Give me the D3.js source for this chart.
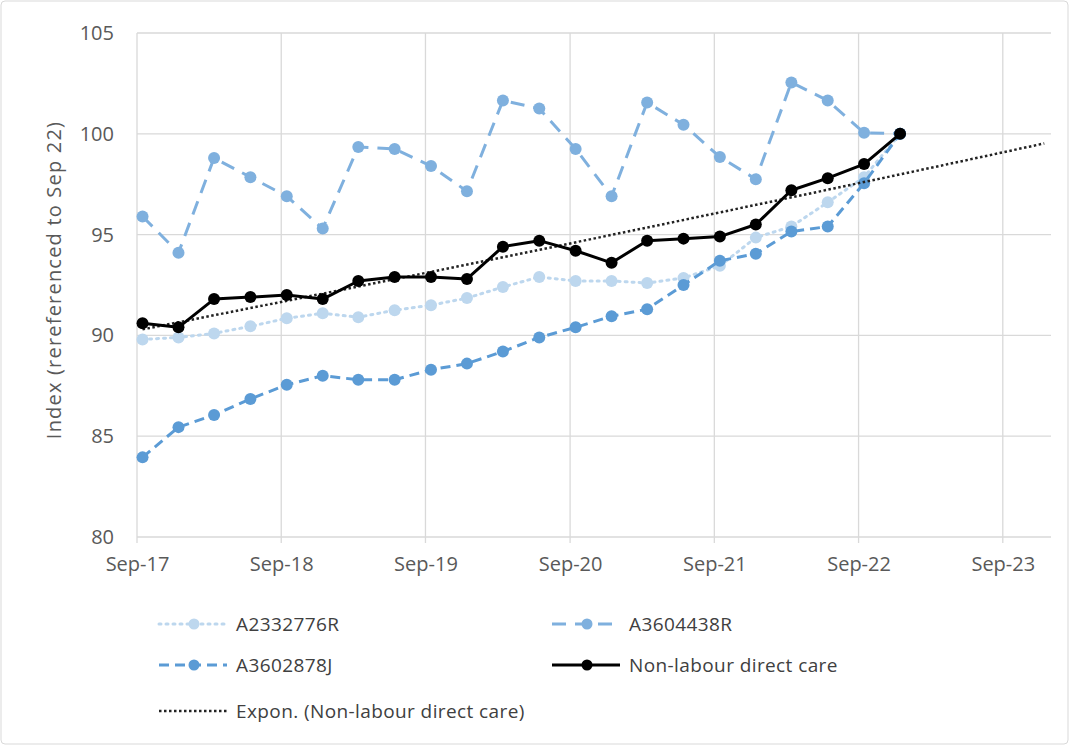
<!DOCTYPE html>
<html>
<head>
<meta charset="utf-8">
<script src="https://cdn.jsdelivr.net/npm/d3@7"></script>
<style>
  body { margin: 0; background: #fff; }
  svg { display: block; font-family: "Open Sans", sans-serif; }
</style>
</head>
<body>
<svg id="chart" width="1070" height="746"></svg>
<script>
// quarterly observation dates
var quarters = ["2017-09-15", "2017-12-15", "2018-03-15", "2018-06-15", "2018-09-15", "2018-12-15",
    "2019-03-15", "2019-06-15", "2019-09-15", "2019-12-15", "2020-03-15", "2020-06-15",
    "2020-09-15", "2020-12-15", "2021-03-15", "2021-06-15", "2021-09-15", "2021-12-15",
    "2022-03-15", "2022-06-15", "2022-09-15", "2022-12-15"];

var a2332776R = [89.8, 89.9, 90.1, 90.45, 90.85, 91.1, 90.9, 91.25, 91.5, 91.85, 92.4, 92.9,
    92.7, 92.7, 92.6, 92.85, 93.45, 94.85, 95.4, 96.6, 97.85, 100];
var a3604438R = [95.9, 94.1, 98.8, 97.85, 96.9, 95.3, 99.35, 99.25, 98.4, 97.15, 101.65, 101.25,
    99.25, 96.9, 101.55, 100.45, 98.85, 97.75, 102.55, 101.65, 100.05, 100];
var a3602878J = [83.95, 85.45, 86.05, 86.85, 87.55, 88.0, 87.8, 87.8, 88.3, 88.6, 89.2, 89.9,
    90.4, 90.95, 91.3, 92.5, 93.7, 94.05, 95.15, 95.4, 97.55, 100];
var nonLabour = [90.6, 90.4, 91.8, 91.9, 92.0, 91.8, 92.7, 92.9, 92.9, 92.8, 94.4, 94.7,
    94.2, 93.6, 94.7, 94.8, 94.9, 95.5, 97.2, 97.8, 98.5, 100];

var yTicks = [80, 85, 90, 95, 100, 105];
var xTickLabels = ["Sep-17", "Sep-18", "Sep-19", "Sep-20", "Sep-21", "Sep-22", "Sep-23"];

var parseDay = d3.timeParse("%Y-%m-%d");
var parseTick = d3.timeParse("%b-%y");
var dates = quarters.map(parseDay);

var svg = d3.select("#chart");

// outer frame
svg.append("rect")
    .attr("x", 1).attr("y", 1)
    .attr("width", 1067).attr("height", 743)
    .attr("rx", 4)
    .attr("fill", "#fff")
    .attr("stroke", "#d9d9d9");

var x = d3.scaleTime()
    .domain([new Date(2017, 8, 1), new Date(2024, 0, 1)])
    .range([137, 1051]);
var y = d3.scaleLinear()
    .domain([80, 105])
    .range([537, 33]);

var tickDates = xTickLabels.map(parseTick);

// gridlines
svg.append("g")
    .selectAll("line")
    .data(yTicks)
    .enter()
    .append("line")
    .attr("x1", x.range()[0]).attr("x2", x.range()[1])
    .attr("y1", d => y(d)).attr("y2", d => y(d))
    .attr("stroke", "#d9d9d9").attr("stroke-width", 1.3);

svg.append("g")
    .selectAll("line")
    .data(tickDates)
    .enter()
    .append("line")
    .attr("x1", d => x(d)).attr("x2", d => x(d))
    .attr("y1", y(105)).attr("y2", y(80) + 6)
    .attr("stroke", "#d9d9d9").attr("stroke-width", 1.3);

// axes text
var yAxis = svg.append("g")
    .attr("transform", "translate(" + 124 + ",0)")
    .call(d3.axisLeft(y).tickValues(yTicks).tickSize(0).tickPadding(10));
yAxis.select(".domain").remove();
yAxis.selectAll("text").attr("font-size", 20).attr("fill", "#595959")
    .attr("font-family", "Open Sans, sans-serif");

var xAxis = svg.append("g")
    .attr("transform", "translate(0," + y(80) + ")")
    .call(d3.axisBottom(x).tickValues(tickDates).tickFormat(d3.timeFormat("%b-%y")).tickSize(0).tickPadding(20));
xAxis.select(".domain").remove();
xAxis.selectAll("text").attr("font-size", 20).attr("fill", "#595959")
    .attr("font-family", "Open Sans, sans-serif");

svg.append("text")
    .attr("transform", "translate(61,280) rotate(-90)")
    .attr("text-anchor", "middle")
    .attr("font-size", 20)
    .attr("letter-spacing", 1.2)
    .attr("fill", "#595959")
    .text("Index (rereferenced to Sep 22)");

// exponential trend fitted to the non-labour series (least squares on ln y)
var day0 = dates[0].getTime();
var xs = dates.map(d => (d.getTime() - day0) / 864e5);
var ls = nonLabour.map(v => Math.log(v));
var mx = d3.mean(xs), ml = d3.mean(ls);
var b = d3.sum(xs, (v, i) => (v - mx) * (ls[i] - ml)) / d3.sum(xs, v => (v - mx) * (v - mx));
var lnA = ml - b * mx;
var trendEnd = d3.timeDay.offset(dates[dates.length - 1], 365);
var trendPts = d3.range(0, 61).map(function(i) {
    var t = new Date(day0 + (trendEnd.getTime() - day0) * i / 60);
    var dx = (t.getTime() - day0) / 864e5;
    return [t, Math.exp(lnA + b * dx)];
});

var series = [
    {name: "A2332776R", values: a2332776R, color: "#bdd7ee", dash: "2,5", width: 3, cap: "round"},
    {name: "A3604438R", values: a3604438R, color: "#7fb0de", dash: "14,9", width: 3, cap: "butt"},
    {name: "A3602878J", values: a3602878J, color: "#5b9bd5", dash: "10,6", width: 3, cap: "butt"},
    {name: "Non-labour direct care", values: nonLabour, color: "#000000", dash: null, width: 3, cap: "butt"}
];

var line = d3.line()
    .x(d => x(d[0]))
    .y(d => y(d[1]));

function drawSeries(s) {
    var pts = dates.map((d, i) => [d, s.values[i]]);
    svg.append("path")
        .datum(pts)
        .attr("d", line)
        .attr("fill", "none")
        .attr("stroke", s.color)
        .attr("stroke-width", s.width)
        .attr("stroke-linecap", s.cap)
        .attr("stroke-linejoin", "round")
        .attr("stroke-dasharray", s.dash);
    svg.append("g")
        .selectAll("circle")
        .data(pts)
        .enter()
        .append("circle")
        .attr("cx", d => x(d[0]))
        .attr("cy", d => y(d[1]))
        .attr("r", 6)
        .attr("fill", s.color);
}

drawSeries(series[0]);
drawSeries(series[1]);
drawSeries(series[2]);

svg.append("path")
    .datum(trendPts)
    .attr("d", line)
    .attr("fill", "none")
    .attr("stroke", "#222")
    .attr("stroke-width", 2.5)
    .attr("stroke-dasharray", "2.5,2.5");

drawSeries(series[3]);

// legend
var legendItems = [
    {s: series[0], x: 159, y: 624},
    {s: series[1], x: 552, y: 624},
    {s: series[2], x: 159, y: 665},
    {s: series[3], x: 552, y: 665},
    {s: {name: "Expon. (Non-labour direct care)", color: "#222", dash: "2.5,2.5", width: 2.5, trend: true}, x: 159, y: 711}
];

legendItems.forEach(function(item) {
    var g = svg.append("g").attr("transform", "translate(" + item.x + "," + item.y + ")");
    g.append("line")
        .attr("x1", 0).attr("x2", 68)
        .attr("stroke", item.s.color)
        .attr("stroke-width", item.s.width)
        .attr("stroke-linecap", item.s.cap || "butt")
        .attr("stroke-dasharray", item.s.dash);
    if (!item.s.trend) {
        g.append("circle").attr("cx", 35).attr("r", 5.5).attr("fill", item.s.color);
    }
    g.append("text")
        .attr("x", 77)
        .attr("dy", "0.35em")
        .attr("font-size", 19)
        .attr("letter-spacing", 0.4)
        .attr("fill", "#404040")
        .text(item.s.name);
});
</script>
</body>
</html>
